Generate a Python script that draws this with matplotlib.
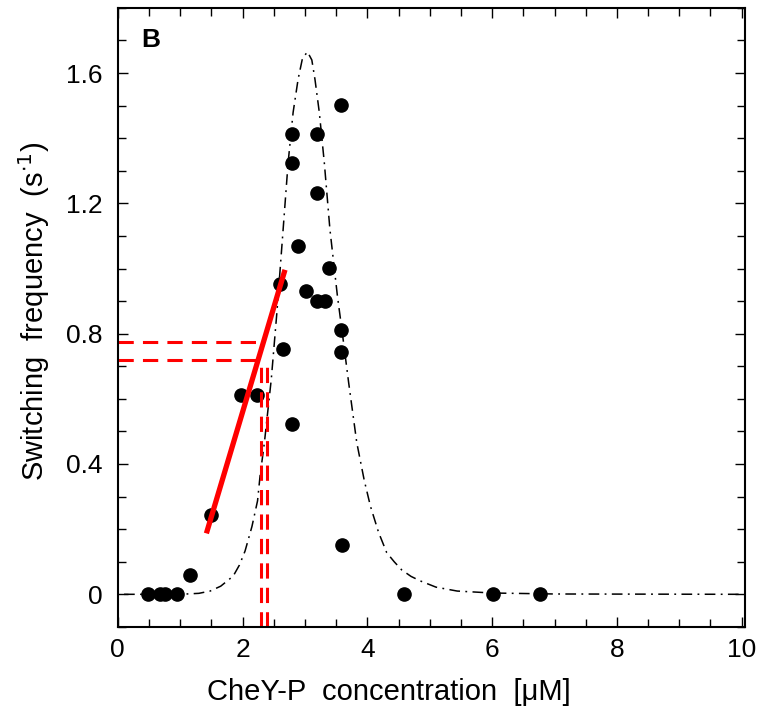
import matplotlib
matplotlib.use("Agg")
import matplotlib.pyplot as plt
from matplotlib.ticker import MultipleLocator, FixedLocator

plt.rcParams['font.family'] = ['Liberation Sans', 'DejaVu Sans']

# measured points (CheY-P concentration, switching frequency)
conc = [0.48, 0.68, 0.76, 0.95, 1.16, 1.50, 1.98, 2.23, 2.60, 2.64, 2.79, 2.79, 2.79,
        2.89, 3.02, 3.19, 3.19, 3.19, 3.32, 3.39, 3.57, 3.57, 3.58, 3.59, 4.58, 6.02, 6.76]
freq = [0, 0, 0, 0, 0.06, 0.243, 0.611, 0.611, 0.952, 0.752, 1.413, 1.323, 0.522,
        1.069, 0.931, 1.413, 1.233, 0.90, 0.90, 1.002, 0.811, 0.744, 1.503, 0.151, 0, 0, 0]

# fitted curve
curve_x = [0.1, 1.0, 1.3, 1.48, 1.65, 1.85, 1.95, 2.04, 2.15, 2.24, 2.28, 2.35, 2.46, 2.55,
           2.65, 2.73, 2.81, 2.89, 2.96, 3.04, 3.11, 3.16, 3.23, 3.31, 3.40, 3.52, 3.60,
           3.70, 3.83, 3.95, 4.05, 4.18, 4.31, 4.43, 4.55, 4.70, 4.85, 5.10, 5.44, 6.0, 7.0, 10.0]
curve_y = [0, 0, 0.003, 0.01, 0.025, 0.056, 0.09, 0.133, 0.208, 0.287, 0.363, 0.466, 0.66,
           0.865, 1.12, 1.325, 1.479, 1.581, 1.645, 1.665, 1.64, 1.581, 1.479, 1.325, 1.12,
           0.916, 0.80, 0.65, 0.466, 0.35, 0.27, 0.19, 0.128, 0.10, 0.075, 0.055, 0.041,
           0.022, 0.01, 0.004, 0.001, 0]

# red slope line and the dashed guides
slope_x = [1.42, 2.68]
slope_y = [0.187, 0.996]
guide_y = [0.773, 0.718]
guide_x = [2.295, 2.397]
guide_x_end = 2.33
guide_y_top = 0.72

fig = plt.figure(figsize=(7.6, 7.14), dpi=100)
ax = fig.add_axes([0.155, 0.122, 0.825, 0.867])

ax.plot(curve_x, curve_y, color='black', lw=1.1, ls=(0, (7, 3.5, 1.2, 3.5)))
ax.plot(conc, freq, 'o', color='black', ms=9.5, mec='black')
ax.plot(slope_x, slope_y, color='red', lw=3.8, solid_capstyle='butt')
for gy in guide_y:
    ax.plot([0, guide_x_end], [gy, gy], color='red', lw=2.2, ls=(0, (5, 3)))
for gx in guide_x:
    ax.plot([gx, gx], [-0.1, guide_y_top], color='red', lw=2.2, ls=(0, (5, 3)))

ax.set_xlim(0, 10.05)
ax.set_ylim(-0.1, 1.8)

ax.xaxis.set_major_locator(FixedLocator([0, 2, 4, 6, 8, 10]))
ax.xaxis.set_minor_locator(MultipleLocator(0.5))
ax.yaxis.set_major_locator(FixedLocator([0, 0.4, 0.8, 1.2, 1.6]))
ax.yaxis.set_minor_locator(MultipleLocator(0.1))
ax.set_yticklabels(['0', '0.4', '0.8', '1.2', '1.6'])
ax.set_xticklabels(['0', '2', '4', '6', '8', '10'])

ax.tick_params(which='both', direction='in', top=True, right=True, width=1.0)
ax.tick_params(which='major', length=7, labelsize=19)
ax.tick_params(which='minor', length=6)
ax.tick_params(axis='y', which='major', pad=11)
ax.tick_params(axis='x', which='major', pad=8)
for s in ax.spines.values():
    s.set_linewidth(1.5)

ax.set_xlabel('CheY-P  concentration  [\u03bcM]', fontsize=21)
ax.xaxis.set_label_coords(0.432, -0.083)
ax.set_ylabel('Switching  frequency  (s$^{\\cdot 1}$)', fontsize=21)
ax.yaxis.set_label_coords(-0.105, 0.51)
ax.text(0.038, 0.948, 'B', transform=ax.transAxes, fontsize=19, fontweight='bold',
        va='center', ha='left')

fig.savefig('out.png', dpi=100)
